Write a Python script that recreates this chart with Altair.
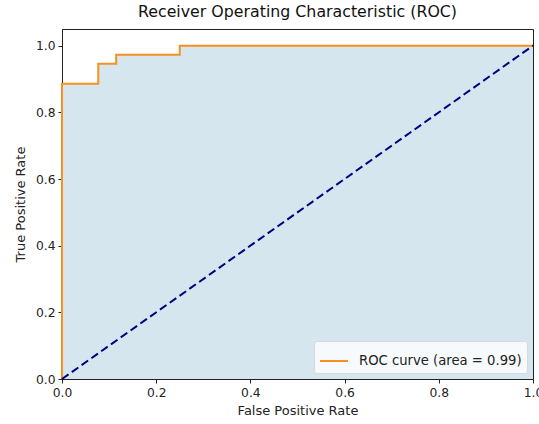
import altair as alt
import pandas as pd

# ROC curve points
fpr = [0.0, 0.0, 0.0, 0.077, 0.077, 0.115, 0.115, 0.25, 0.25, 1.0]
tpr = [0.0, 0.0, 0.886, 0.886, 0.946, 0.946, 0.973, 0.973, 1.0, 1.0]
diag_x = [0.0, 1.0]
diag_y = [0.0, 1.0]
series_label = "ROC curve (area = 0.99)"

roc = pd.DataFrame({"fpr": fpr, "tpr": tpr, "idx": list(range(len(fpr))),
                    "series": [series_label] * len(fpr)})
# area under the step curve: highest tpr reached at each fpr
roc_area = roc.groupby("fpr", as_index=False)["tpr"].max()
diag = pd.DataFrame({"x": diag_x, "y": diag_y})

xscale = alt.Scale(domain=[0, 1.0], nice=False, zero=False)
yscale = alt.Scale(domain=[0, 1.05], nice=False, zero=False)
xaxis = alt.Axis(values=[0, 0.2, 0.4, 0.6, 0.8, 1.0], format=".1f", title="False Positive Rate",
                 labelFlush=False)
yaxis = alt.Axis(values=[0, 0.2, 0.4, 0.6, 0.8, 1.0], format=".1f", title="True Positive Rate",
                 labelFlush=False)

area = alt.Chart(roc_area).mark_area(color="#d5e6ee", opacity=1, interpolate="step-after").encode(
    x=alt.X("fpr:Q", scale=xscale, axis=xaxis),
    y=alt.Y("tpr:Q", scale=yscale, axis=yaxis, stack=None),
)

line = alt.Chart(roc).mark_line(strokeWidth=2).encode(
    x=alt.X("fpr:Q", scale=xscale),
    y=alt.Y("tpr:Q", scale=yscale),
    order="idx:Q",
    color=alt.Color("series:N", scale=alt.Scale(domain=[series_label], range=["#f7901e"]),
                    legend=alt.Legend(title=None, orient="bottom-right", symbolType="stroke",
                                      symbolStrokeWidth=2, symbolSize=784, labelLimit=400)),
)

dline = alt.Chart(diag).mark_line(color="#000080", strokeWidth=2, strokeDash=[8, 4]).encode(
    x=alt.X("x:Q", scale=xscale),
    y=alt.Y("y:Q", scale=yscale),
)

chart = (area + line + dline).properties(
    width=471, height=350,
    title=alt.TitleParams("Receiver Operating Characteristic (ROC)", fontSize=15.8,
                          fontWeight="normal", font="DejaVu Sans", color="#111", offset=8),
    autosize=alt.AutoSizeParams(type="none"),
    padding={"left": 62, "top": 29, "right": 6, "bottom": 45},
).configure_view(
    stroke="#222", strokeWidth=1
).configure_axis(
    grid=False, domainColor="#222", tickColor="#222", tickSize=4,
    labelFont="DejaVu Sans", labelFontSize=12.3, labelColor="#222", labelPadding=3,
    titleFont="DejaVu Sans", titleFontSize=13, titleFontWeight="normal", titleColor="#222",
).configure_axisX(titlePadding=6).configure_axisY(titlePadding=8).configure_legend(
    labelFont="DejaVu Sans", labelFontSize=13.2, labelColor="#222", labelLimit=400,
    fillColor="rgba(255,255,255,0.8)", strokeColor="#d8d8d8", cornerRadius=3,
    padding=5, offset=6, labelOffset=10,
)

chart.save("out.html", embed_options={"renderer": "svg", "actions": False})
